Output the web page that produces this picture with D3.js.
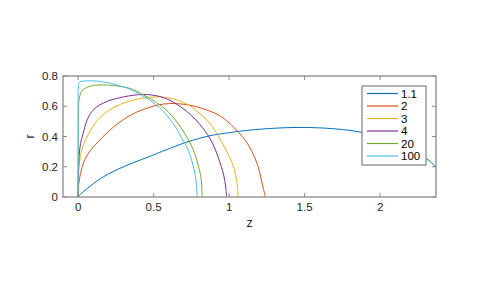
<!DOCTYPE html>
<html>
<head>
<meta charset="utf-8">
<script src="https://cdn.jsdelivr.net/npm/d3@7"></script>
<style>
  html, body { margin: 0; padding: 0; background: #fff; }
  svg { display: block; font-family: "Liberation Sans", Arial, sans-serif; }
</style>
</head>
<body>
<div id="chart"></div>
<script>
// Profiles r(z), one per exponent value
const labels = ['1.1', '2', '3', '4', '20', '100'];
const colors = ['#0072BD', '#D95319', '#EDB120', '#7E2F8E', '#77AC30', '#4DBEEE'];

const curve1_1 = [[0, 0], [0.02, 0.022], [0.06, 0.056], [0.148, 0.122], [0.258, 0.181], [0.369, 0.228],
  [0.479, 0.27], [0.56, 0.303], [0.718, 0.362], [0.872, 0.405], [1.0, 0.425], [1.071, 0.435],
  [1.27, 0.453], [1.45, 0.46], [1.6, 0.457], [1.75, 0.446], [1.865, 0.43], [2.0, 0.395],
  [2.15, 0.335], [2.307, 0.254], [2.367, 0.199], [2.45, 0.1]];
const curve2 = [[0, 0], [0.002, 0.055], [0.005, 0.089], [0.016, 0.155], [0.038, 0.232], [0.082, 0.309],
  [0.137, 0.37], [0.192, 0.425], [0.258, 0.482], [0.345, 0.54], [0.424, 0.576], [0.519, 0.606],
  [0.607, 0.618], [0.74, 0.607], [0.872, 0.568], [0.95, 0.53], [1.016, 0.475], [1.115, 0.364],
  [1.181, 0.232], [1.2, 0.17], [1.215, 0.105], [1.228, 0.05], [1.237, 0.015], [1.239, 0]];
const curve3 = [[0, 0], [0.002, 0.12], [0.006, 0.2], [0.016, 0.276], [0.038, 0.354], [0.071, 0.42],
  [0.126, 0.505], [0.192, 0.565], [0.303, 0.622], [0.424, 0.652], [0.5, 0.661], [0.56, 0.66],
  [0.65, 0.643], [0.74, 0.603], [0.82, 0.54], [0.872, 0.488], [0.916, 0.425], [0.95, 0.365],
  [0.99, 0.29], [1.016, 0.235], [1.035, 0.18], [1.049, 0.11], [1.057, 0.05], [1.06, 0]];
const curve4 = [[0, 0], [0.002, 0.15], [0.006, 0.26], [0.016, 0.354], [0.033, 0.42], [0.06, 0.51],
  [0.104, 0.58], [0.192, 0.632], [0.303, 0.662], [0.42, 0.678], [0.48, 0.675], [0.563, 0.658],
  [0.65, 0.615], [0.74, 0.548], [0.806, 0.48], [0.872, 0.39], [0.91, 0.31], [0.938, 0.232],
  [0.958, 0.17], [0.971, 0.11], [0.979, 0.05], [0.983, 0]];
const curve20 = [[0, 0], [0.0005, 0.3], [0.002, 0.55], [0.005, 0.63], [0.012, 0.67], [0.026, 0.702],
  [0.06, 0.725], [0.1, 0.737], [0.17, 0.741], [0.25, 0.735], [0.343, 0.718], [0.424, 0.68],
  [0.519, 0.625], [0.6, 0.56], [0.655, 0.495], [0.7, 0.43], [0.745, 0.35], [0.775, 0.28],
  [0.795, 0.21], [0.81, 0.15], [0.817, 0.099], [0.82, 0.05], [0.821, 0]];
const curve100 = [[0, 0], [0.0003, 0.4], [0.001, 0.72], [0.004, 0.75], [0.012, 0.76], [0.04, 0.767],
  [0.08, 0.768], [0.13, 0.766], [0.2, 0.755], [0.3, 0.728], [0.343, 0.713], [0.424, 0.67],
  [0.475, 0.64], [0.55, 0.58], [0.607, 0.515], [0.65, 0.455], [0.695, 0.37], [0.718, 0.335],
  [0.745, 0.265], [0.762, 0.205], [0.776, 0.14], [0.784, 0.08], [0.787, 0.03], [0.788, 0]];

const curves = [curve1_1, curve2, curve3, curve4, curve20, curve100];
const xTicks = [0, 0.5, 1, 1.5, 2];
const yTicks = [0, 0.2, 0.4, 0.6, 0.8];

const width = 482, height = 283;
const box = { left: 63, right: 436, top: 76, bottom: 197 };
const axisColor = '#8a8a8a';
const textColor = '#262626';
const tickLen = 4;

const svg = d3.select('#chart').append('svg')
  .attr('width', width)
  .attr('height', height);

const x = d3.scaleLinear().domain([-0.1, 2.37]).range([box.left, box.right]);
const y = d3.scaleLinear().domain([0, 0.8]).range([box.bottom, box.top]);

svg.append('defs').append('clipPath').attr('id', 'plot-clip')
  .append('rect')
  .attr('x', box.left).attr('y', box.top)
  .attr('width', box.right - box.left).attr('height', box.bottom - box.top);

// Curves, drawn in plot order so the last one sits on top
const line = d3.line()
  .x(d => x(d[0]))
  .y(d => y(d[1]))
  .curve(d3.curveCatmullRom.alpha(0.5));

const plot = svg.append('g').attr('clip-path', 'url(#plot-clip)');
curves.forEach((c, i) => {
  plot.append('path')
    .datum(c)
    .attr('fill', 'none')
    .attr('stroke', colors[i])
    .attr('stroke-width', 1)
    .attr('d', line);
});

// Axes box with inward ticks on all four sides
const axes = svg.append('g');
axes.append('rect')
  .attr('x', box.left).attr('y', box.top)
  .attr('width', box.right - box.left).attr('height', box.bottom - box.top)
  .attr('fill', 'none')
  .attr('stroke', axisColor)
  .attr('stroke-width', 1.3);

xTicks.forEach(t => {
  const px = x(t);
  axes.append('line').attr('x1', px).attr('x2', px)
    .attr('y1', box.bottom).attr('y2', box.bottom - tickLen)
    .attr('stroke', axisColor);
  axes.append('line').attr('x1', px).attr('x2', px)
    .attr('y1', box.top).attr('y2', box.top + tickLen)
    .attr('stroke', axisColor);
  axes.append('text')
    .attr('x', px).attr('y', box.bottom + 14)
    .attr('text-anchor', 'middle')
    .attr('font-size', 11.5)
    .attr('fill', textColor)
    .text(d3.format('~g')(t));
});

yTicks.forEach(t => {
  const py = y(t);
  axes.append('line').attr('x1', box.left).attr('x2', box.left + tickLen)
    .attr('y1', py).attr('y2', py)
    .attr('stroke', axisColor);
  axes.append('line').attr('x1', box.right).attr('x2', box.right - tickLen)
    .attr('y1', py).attr('y2', py)
    .attr('stroke', axisColor);
  axes.append('text')
    .attr('x', box.left - 5).attr('y', py)
    .attr('dy', '0.35em')
    .attr('text-anchor', 'end')
    .attr('font-size', 11.5)
    .attr('fill', textColor)
    .text(d3.format('~g')(t));
});

// Axis labels
svg.append('text')
  .attr('x', (box.left + box.right) / 2).attr('y', 227)
  .attr('text-anchor', 'middle')
  .attr('font-size', 12.5)
  .attr('fill', textColor)
  .text('z');

svg.append('text')
  .attr('transform', `translate(34, ${(box.top + box.bottom) / 2}) rotate(-90)`)
  .attr('text-anchor', 'middle')
  .attr('font-size', 12.5)
  .attr('fill', textColor)
  .text('r');

// Legend
const legend = { left: 362, top: 86, width: 64, rowH: 12.5 };
const lg = svg.append('g');
lg.append('rect')
  .attr('x', legend.left).attr('y', legend.top)
  .attr('width', legend.width).attr('height', labels.length * legend.rowH + 4)
  .attr('fill', '#fff')
  .attr('stroke', axisColor)
  .attr('stroke-width', 1.3);

labels.forEach((lab, i) => {
  const cy = legend.top + 7.5 + i * legend.rowH;
  lg.append('line')
    .attr('x1', legend.left + 5).attr('x2', legend.left + 36)
    .attr('y1', cy).attr('y2', cy)
    .attr('stroke', colors[i])
    .attr('stroke-width', 1.2);
  lg.append('text')
    .attr('x', legend.left + 39).attr('y', cy)
    .attr('dy', '0.35em')
    .attr('font-size', 11.5)
    .attr('fill', '#000')
    .text(lab);
});
</script>
</body>
</html>
